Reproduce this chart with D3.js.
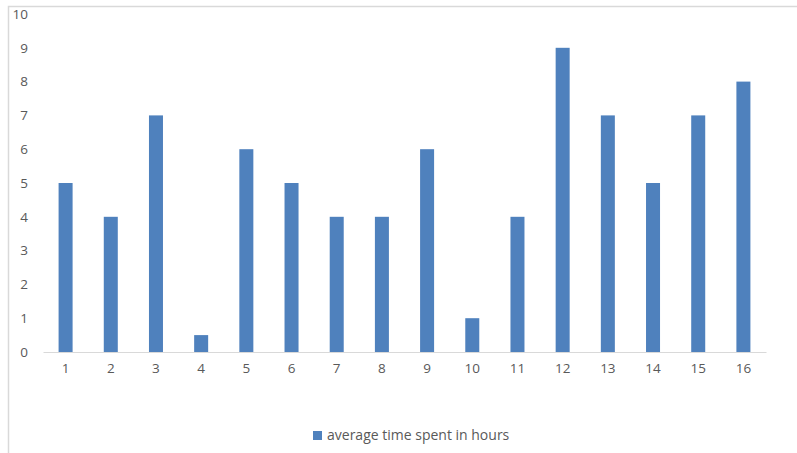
<!DOCTYPE html>
<html>
<head>
<meta charset="utf-8">
<script src="https://cdn.jsdelivr.net/npm/d3@7"></script>
<style>
  html, body { margin: 0; padding: 0; background: #fff; }
  svg { display: block; }
  text { font-family: "Open Sans", "Liberation Sans", sans-serif; fill: #595959; }
</style>
</head>
<body>
<svg id="chart" width="797" height="453"></svg>
<script>
const categories = ["1","2","3","4","5","6","7","8","9","10","11","12","13","14","15","16"];
const hours = [5, 4, 7, 0.5, 6, 5, 4, 4, 6, 1, 4, 9, 7, 5, 7, 8];
const yTicks = [0, 1, 2, 3, 4, 5, 6, 7, 8, 9, 10];
const seriesName = "average time spent in hours";

const svg = d3.select("#chart");
const barColor = "#4F81BD";
const plot = { left: 43, right: 766, top: 14, bottom: 352 };

// chart frame (top and left edges)
svg.append("path")
  .attr("d", "M8.5,453 L8.5,6.5 L797,6.5")
  .attr("fill", "none").attr("stroke", "#d9d9d9").attr("stroke-width", 1.5);

const x = d3.scaleBand().domain(categories).range([plot.left, plot.right]).paddingInner(0.69).paddingOuter(0.345);
const y = d3.scaleLinear().domain([0, 10]).range([plot.bottom, plot.top]);

// value axis labels
const yAxis = d3.axisLeft(y).tickValues(yTicks).tickSize(0).tickPadding(0).tickFormat(d3.format("d"));
const gy = svg.append("g").attr("transform", "translate(28,0)").call(yAxis);
gy.select(".domain").remove();
gy.selectAll("text").attr("font-size", 13.5).attr("fill", "#595959").attr("font-family", null);

// bars
svg.append("g").selectAll("rect").data(hours).join("rect")
  .attr("x", (d, i) => x(categories[i]))
  .attr("y", d => y(d))
  .attr("width", x.bandwidth())
  .attr("height", d => y(0) - y(d))
  .attr("fill", barColor);

// category axis
const xAxis = d3.axisBottom(x).tickSize(0).tickPadding(11);
const gx = svg.append("g").attr("transform", `translate(0,${plot.bottom})`).call(xAxis);
gx.select(".domain").attr("stroke", "#d9d9d9").attr("stroke-width", 1);
gx.selectAll("text").attr("font-size", 13.5).attr("fill", "#595959").attr("font-family", null);

// legend
const legend = svg.append("g").attr("transform", "translate(313,431)");
legend.append("rect").attr("width", 9).attr("height", 9).attr("fill", barColor);
legend.append("text").attr("x", 14).attr("y", 4.5).attr("dy", "0.35em")
  .attr("font-size", 14).text(seriesName);
</script>
</body>
</html>
